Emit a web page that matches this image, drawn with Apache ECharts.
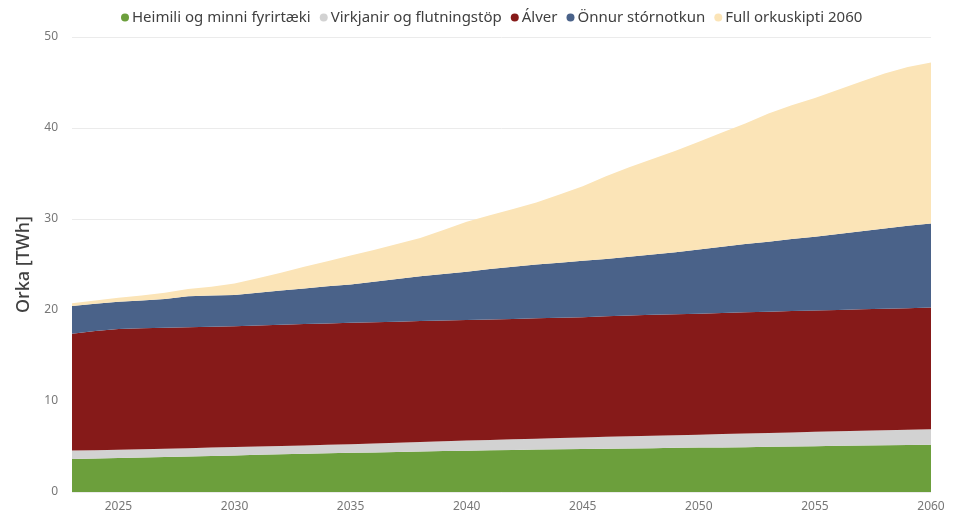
<!DOCTYPE html>
<html>
<head>
<meta charset="utf-8">
<script src="https://cdn.jsdelivr.net/npm/echarts@6/dist/echarts.min.js"></script>
<style>
  html, body { margin: 0; padding: 0; background: #fff; }
  #chart { width: 956px; height: 513px; }
</style>
</head>
<body>
<div id="chart"></div>
<script>
// ár
var years = [];
for (var y = 2023; y <= 2060; y++) years.push(String(y));

// TWh per flokk (lesið af myndinni)
var heimili = [3.63, 3.68, 3.73, 3.78, 3.84, 3.90, 3.96, 4.02, 4.08, 4.14,
  4.20, 4.25, 4.30, 4.35, 4.40, 4.45, 4.50, 4.54, 4.58, 4.62,
  4.66, 4.70, 4.73, 4.76, 4.79, 4.82, 4.85, 4.88, 4.90, 4.93,
  4.97, 5.00, 5.04, 5.07, 5.10, 5.14, 5.17, 5.20];
var virkjanir = [0.92, 0.92, 0.92, 0.92, 0.92, 0.92, 0.92, 0.92, 0.92, 0.91,
  0.90, 0.93, 0.96, 0.99, 1.02, 1.05, 1.08, 1.11, 1.14, 1.17,
  1.20, 1.23, 1.27, 1.30, 1.33, 1.36, 1.39, 1.42, 1.47, 1.50,
  1.52, 1.55, 1.57, 1.60, 1.63, 1.65, 1.68, 1.70];
var alver = [12.85, 13.10, 13.25, 13.30, 13.29, 13.28, 13.27, 13.28, 13.30, 13.32,
  13.35, 13.34, 13.34, 13.32, 13.30, 13.28, 13.26, 13.25, 13.24, 13.23,
  13.22, 13.21, 13.20, 13.24, 13.28, 13.29, 13.30, 13.30, 13.30, 13.31,
  13.32, 13.33, 13.33, 13.34, 13.35, 13.35, 13.35, 13.37];
var onnur = [3.05, 3.00, 3.00, 3.05, 3.15, 3.40, 3.43, 3.43, 3.60, 3.78,
  3.90, 4.08, 4.20, 4.44, 4.68, 4.92, 5.11, 5.30, 5.54, 5.73,
  5.92, 6.06, 6.20, 6.30, 6.45, 6.63, 6.81, 7.05, 7.28, 7.51,
  7.69, 7.92, 8.11, 8.34, 8.57, 8.81, 9.05, 9.23];
var orkuskipti = [0.30, 0.35, 0.45, 0.55, 0.70, 0.80, 0.97, 1.25, 1.60, 1.95,
  2.40, 2.75, 3.20, 3.50, 3.85, 4.20, 4.85, 5.50, 5.90, 6.35,
  6.80, 7.50, 8.20, 9.10, 9.85, 10.50, 11.15, 11.85, 12.55, 13.25,
  14.10, 14.70, 15.25, 15.85, 16.45, 17.05, 17.45, 17.70];

var names = ['Heimili og minni fyrirtæki', 'Virkjanir og flutningstöp', 'Álver', 'Önnur stórnotkun', 'Full orkuskipti 2060'];
var colors = ['#6c9f3c', '#d2d2d2', '#861a19', '#4a6289', '#fbe4b7'];
var values = [heimili, virkjanir, alver, onnur, orkuskipti];

var font = 'Noto Sans';

// búa til series
var series = names.map(function (n, i) {
  return {
    name: n,
    type: 'line',
    stack: 'total',
    data: values[i],
    symbol: 'none',
    lineStyle: { width: 0 },
    areaStyle: { color: colors[i], opacity: 1 },
    itemStyle: { color: colors[i] }
  };
});

var myChart = echarts.init(document.getElementById('chart'));
var option = {
  animation: false,
  textStyle: { fontFamily: font },
  legend: {
    top: 5,
    left: 116,
    icon: 'circle',
    itemWidth: 8,
    itemHeight: 8,
    itemGap: 9,
    textStyle: { fontFamily: font, fontSize: 15, color: '#404040', padding: [0, 0, 0, -2] },
    data: names
  },
  grid: { left: 72, right: 25, top: 37, bottom: 17 },
  xAxis: {
    type: 'category',
    data: years,
    boundaryGap: false,
    axisLine: { show: false },
    axisTick: { show: false },
    axisLabel: {
      color: '#777',
      fontSize: 12,
      margin: 9,
      interval: function (idx, val) { return Number(val) % 5 === 0; }
    }
  },
  yAxis: {
    type: 'value',
    min: 0,
    max: 50,
    interval: 10,
    name: 'Orka [TWh]',
    nameLocation: 'middle',
    nameGap: 37,
    nameTextStyle: { fontFamily: font, fontSize: 18, color: '#404040', fontWeight: 500 },
    axisLine: { show: false },
    axisTick: { show: false },
    axisLabel: { color: '#777', fontSize: 12, margin: 14 },
    splitLine: { lineStyle: { color: '#ebebeb', width: 1 } }
  },
  series: series
};
myChart.setOption(option);
window.addEventListener('resize', function () {
  myChart.resize();
});
</script>
</body>
</html>
